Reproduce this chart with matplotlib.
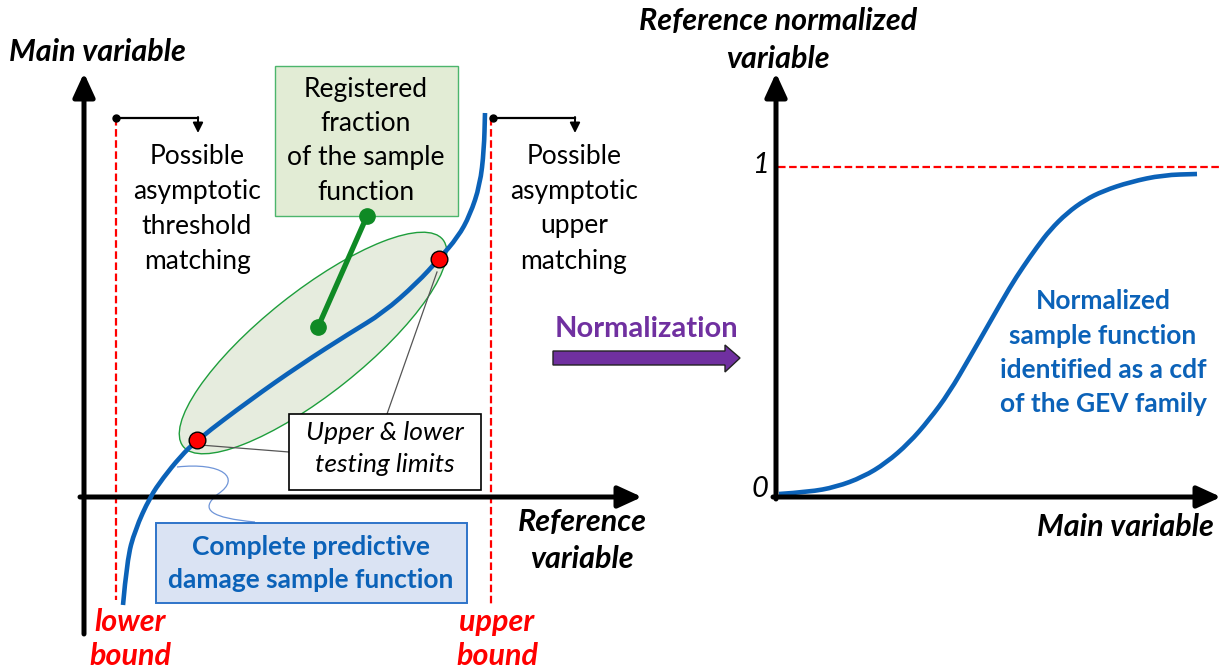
import matplotlib.pyplot as plt
import numpy as np
from matplotlib.patches import Ellipse, Rectangle, Polygon, PathPatch
from matplotlib.path import Path

plt.rcParams['font.family'] = ['Lato', 'DejaVu Sans']

# left sketch: complete predictive damage sample function (pixel coords, y down)
left_x = [123, 127, 135, 150, 163, 180, 197, 250, 300, 350, 383, 417, 439, 458, 470, 480, 484, 485]
left_y = [605, 560, 530, 497, 478, 457, 440, 400, 365, 333, 313, 283, 259, 237, 215, 185, 150, 113]
limits_x = [197, 439]
limits_y = [440, 259]
fraction_x = [318, 367]
fraction_y = [327, 216]

# right sketch: normalized sample function (cdf)
right_x = [779, 809, 836, 863, 886, 909, 929, 949, 970, 990, 1010, 1023, 1037, 1050, 1067, 1085, 1103, 1130, 1163, 1197]
right_y = [494, 492, 487, 477, 463, 443, 420, 393, 357, 322, 287, 267, 247, 230, 213, 200, 191, 182, 175, 174]

W, H = 1221, 670
fig = plt.figure(figsize=(W / 100, H / 100), dpi=100)
ax = fig.add_axes([0, 0, 1, 1])
ax.set_xlim(0, W)
ax.set_ylim(H, 0)
ax.axis('off')

BLUE = '#0b62b8'
RED = '#ff0000'
axis_arrow = dict(arrowstyle='-|>,head_length=1.2,head_width=0.55', lw=3.6, color='black',
                  shrinkA=0, shrinkB=0, mutation_scale=12)


def arrow(x0, y0, x1, y1, props=axis_arrow):
    ax.annotate('', xy=(x1, y1), xytext=(x0, y0), arrowprops=props)


def smooth_line(xs, ys, **kw):
    # quadratic bezier through the midpoints of the read points
    pts = list(zip(xs, ys))
    verts = [pts[0]]
    codes = [Path.MOVETO]
    for i in range(1, len(pts) - 1):
        mid = ((pts[i][0] + pts[i + 1][0]) / 2, (pts[i][1] + pts[i + 1][1]) / 2)
        verts += [pts[i], mid]
        codes += [Path.CURVE3, Path.CURVE3]
    verts.append(pts[-1])
    codes.append(Path.LINETO)
    ax.add_patch(PathPatch(Path(verts, codes), facecolor='none', **kw))


# axes of left sketch
arrow(84, 634, 84, 73)
arrow(80, 497, 642, 497)
# axes of right sketch
arrow(776, 499, 776, 73)
arrow(773, 497, 1221, 497)

# bounds
dash = (0, (3.4, 1.6))
ax.plot([116, 116], [118, 600], ls=dash, color=RED, lw=1.6)
ax.plot([491, 491], [118, 605], ls=dash, color=RED, lw=1.6)
ax.plot([778, 1221], [167, 167], ls=dash, color=RED, lw=1.6)

small_arrow = dict(arrowstyle='-|>,head_length=0.6,head_width=0.3', lw=1.4, color='black',
                   shrinkA=0, shrinkB=0, mutation_scale=10)
for bx in [116, 493]:
    ax.plot([bx, bx + 82], [118, 118], color='black', lw=1.6)
    ax.plot(bx, 118, 'o', color='black', ms=5)
    arrow(bx + 82, 117, bx + 82, 133, small_arrow)

# ellipse of registered fraction
ax.add_patch(Ellipse((313, 343), 332, 102, angle=-38.5, facecolor='#e6ecde', edgecolor='#1e9e3c', lw=1.0, zorder=2))
smooth_line(left_x, left_y, edgecolor=BLUE, lw=3.3, zorder=3)
ax.plot(fraction_x, fraction_y, color='#0f8a25', lw=3.8, marker='o', ms=11, zorder=4)

# leader lines to testing-limit box
ax.plot([437, 387], [272, 414], color='#555555', lw=0.9, zorder=2)
ax.plot([200, 289], [445, 452], color='#555555', lw=0.9, zorder=2)
ax.plot(limits_x, limits_y, 'o', color=RED, mec='black', mew=1.0, ms=12, zorder=5)

# squiggle leader to the bottom box
verts = [(177, 467), (222, 462), (242, 478), (218, 494), (198, 510), (212, 518), (255, 522)]
codes = [Path.MOVETO] + [Path.CURVE4] * 6
ax.add_patch(PathPatch(Path(verts, codes), facecolor='none', edgecolor='#6f95d8', lw=0.9))

# boxes
ax.add_patch(Rectangle((275, 66), 183, 150, facecolor='#e2ecd5', edgecolor='#4cb56c', lw=1.0, zorder=3))
ax.add_patch(Rectangle((289, 414), 192, 76, facecolor='white', edgecolor='black', lw=1.2, zorder=3))
ax.add_patch(Rectangle((156, 523), 311, 80, facecolor='#dae3f3', edgecolor='#2f74c9', lw=1.4, zorder=3))

# normalization arrow
ax.add_patch(Polygon([(553, 351), (725, 351), (725, 345), (740, 358), (725, 372), (725, 365), (553, 365)],
                     closed=True, facecolor='#7030a0', edgecolor='#222222', lw=1.0))

# curve of right sketch
smooth_line(right_x, right_y, edgecolor=BLUE, lw=3.3)

# texts
fs = 19
for i, s in enumerate(['Registered', 'fraction', 'of the sample', 'function']):
    ax.text(366, 89 + 34.5 * i, s, ha='center', va='center', fontsize=fs, zorder=6)
for i, s in enumerate(['Possible', 'asymptotic', 'threshold', 'matching']):
    ax.text(197, 156 + 35 * i, s, ha='center', va='center', fontsize=fs)
for i, s in enumerate(['Possible', 'asymptotic', 'upper', 'matching']):
    ax.text(574, 156 + 35 * i, s, ha='center', va='center', fontsize=fs)
for i, s in enumerate(['Upper & lower', 'testing limits']):
    ax.text(385, 432 + 33 * i, s, ha='center', va='center', fontsize=fs, style='italic', zorder=6)
for i, s in enumerate(['Complete predictive', 'damage sample function']):
    ax.text(311, 547 + 33 * i, s, ha='center', va='center', fontsize=fs, weight='bold', color=BLUE, zorder=6)
for i, s in enumerate(['Normalized', 'sample function', 'identified as a cdf', 'of the GEV family']):
    ax.text(1103, 301 + 34.5 * i, s, ha='center', va='center', fontsize=fs, weight='bold', color=BLUE)

lab = dict(fontsize=22, weight='bold', style='italic', va='center')
ax.text(9, 52, 'Main variable', ha='left', **lab)
ax.text(582, 522, 'Reference', ha='center', **lab)
ax.text(582, 559, 'variable', ha='center', **lab)
ax.text(778, 21, 'Reference normalized', ha='center', **lab)
ax.text(778, 59, 'variable', ha='center', **lab)
ax.text(1214, 527, 'Main variable', ha='right', **lab)
ax.text(130, 622, 'lower', ha='center', color=RED, **lab)
ax.text(130, 656, 'bound', ha='center', color=RED, **lab)
ax.text(497, 622, 'upper', ha='center', color=RED, **lab)
ax.text(497, 656, 'bound', ha='center', color=RED, **lab)
ax.text(646, 329, 'Normalization', ha='center', va='center', fontsize=21, weight='bold', color='#7030a0')
ax.text(760, 165, '1', ha='center', va='center', fontsize=21, style='italic')
ax.text(760, 489, '0', ha='center', va='center', fontsize=21, style='italic')

fig.savefig('out.png', dpi=100)
